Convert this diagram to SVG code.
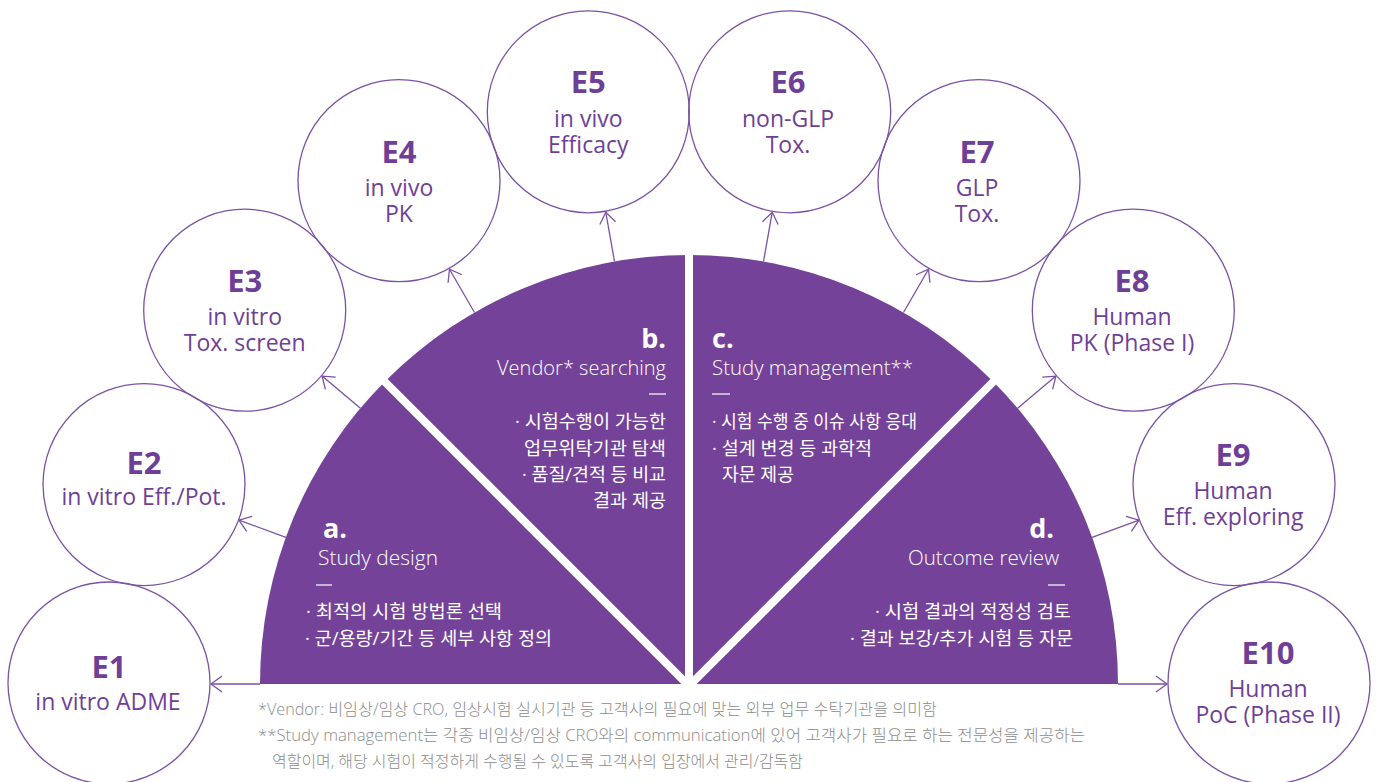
<svg xmlns="http://www.w3.org/2000/svg" width="1379" height="782" viewBox="0 0 1379 782">
  <defs>
    <style>
      .ring { fill: none; stroke: #7b52a3; stroke-width: 1.3; }
      .code { font-family: "Open Sans", "Noto Sans", sans-serif; font-weight: 700; font-size: 31px; fill: #6f3f97; text-anchor: middle; }
      .sub { font-family: "Open Sans", "Noto Sans", sans-serif; font-weight: 400; font-size: 23px; fill: #6f3f97; text-anchor: middle; }
      .link { fill: none; stroke: #7b52a3; stroke-width: 1.3; }
      .letter { font-family: "Open Sans", "Noto Sans", sans-serif; font-weight: 700; font-size: 27px; fill: #ffffff; }
      .head { font-family: "Open Sans", "Noto Sans", sans-serif; font-weight: 300; font-size: 20px; fill: #ffffff; }
      .item { font-family: "Open Sans", "Noto Sans CJK KR", sans-serif; font-weight: 400; font-size: 18.5px; fill: #ffffff; }
      .rule { stroke: #ffffff; stroke-width: 1.2; }
      .note { font-family: "Open Sans", "Noto Sans CJK KR", sans-serif; font-weight: 300; font-size: 16px; fill: #8c8c8c; }
      .end { text-anchor: end; }
    </style>
    <marker id="chev" viewBox="-12 -9 14 18" markerWidth="14" markerHeight="18" refX="0" refY="0" orient="auto" markerUnits="userSpaceOnUse">
      <path d="M-11,-8 L0,0 L-11,8" fill="none" stroke="#7b52a3" stroke-width="1.3"/>
    </marker>
  </defs>

  <!-- central half disc split into four sectors -->
  <g id="hub">
    <path d="M260,684 A429,429 0 0 1 1118,684 Z" fill="#744399"/>
    <g stroke="#ffffff" stroke-width="8" stroke-linecap="butt">
      <line x1="689" y1="686" x2="689" y2="245"/>
      <line x1="689" y1="686" x2="378" y2="375"/>
      <line x1="689" y1="686" x2="1000" y2="375"/>
    </g>
  </g>

  <g id="sector-a">
    <text class="letter" x="323" y="538">a.</text>
    <text class="head" x="318" y="565" textLength="120" lengthAdjust="spacingAndGlyphs">Study design</text>
    <line class="rule" x1="316" y1="585" x2="332" y2="585"/>
    <text class="item" x="306" y="618" textLength="196" lengthAdjust="spacingAndGlyphs">· 최적의 시험 방법론 선택</text>
    <text class="item" x="305" y="645" textLength="247" lengthAdjust="spacingAndGlyphs">· 군/용량/기간 등 세부 사항 정의</text>
  </g>

  <g id="sector-b">
    <text class="letter end" x="666" y="348">b.</text>
    <text class="head end" x="666" y="375" textLength="169" lengthAdjust="spacingAndGlyphs">Vendor* searching</text>
    <line class="rule" x1="649" y1="394" x2="666" y2="394"/>
    <text class="item end" x="666" y="428" textLength="151" lengthAdjust="spacingAndGlyphs">· 시험수행이 가능한</text>
    <text class="item end" x="666" y="455" textLength="142" lengthAdjust="spacingAndGlyphs">업무위탁기관 탐색</text>
    <text class="item end" x="666" y="481" textLength="144" lengthAdjust="spacingAndGlyphs">· 품질/견적 등 비교</text>
    <text class="item end" x="666" y="507" textLength="73" lengthAdjust="spacingAndGlyphs">결과 제공</text>
  </g>

  <g id="sector-c">
    <text class="letter" x="712" y="348">c.</text>
    <text class="head" x="712" y="375" textLength="201" lengthAdjust="spacingAndGlyphs">Study management**</text>
    <line class="rule" x1="712" y1="394" x2="730" y2="394"/>
    <text class="item" x="712" y="428" textLength="205" lengthAdjust="spacingAndGlyphs">· 시험 수행 중 이슈 사항 응대</text>
    <text class="item" x="712" y="455" textLength="160" lengthAdjust="spacingAndGlyphs">· 설계 변경 등 과학적</text>
    <text class="item" x="722" y="481" textLength="72" lengthAdjust="spacingAndGlyphs">자문 제공</text>
  </g>

  <g id="sector-d">
    <text class="letter end" x="1054" y="538">d.</text>
    <text class="head end" x="1059" y="565" textLength="151" lengthAdjust="spacingAndGlyphs">Outcome review</text>
    <line class="rule" x1="1048" y1="585" x2="1065" y2="585"/>
    <text class="item end" x="1071" y="618" textLength="196" lengthAdjust="spacingAndGlyphs">· 시험 결과의 적정성 검토</text>
    <text class="item end" x="1073" y="645" textLength="223" lengthAdjust="spacingAndGlyphs">· 결과 보강/추가 시험 등 자문</text>
  </g>

  <!-- radial connectors from the half disc to each stage -->
  <g id="connectors">
    <line class="link" x1="260" y1="684" x2="211" y2="684" marker-end="url(#chev)"/>
    <line class="link" x1="285.9" y1="537.3" x2="239.0" y2="520.2" marker-end="url(#chev)"/>
    <line class="link" x1="360.4" y1="408.2" x2="322.1" y2="376.1" marker-end="url(#chev)"/>
    <line class="link" x1="474.5" y1="312.5" x2="449.5" y2="269.2" marker-end="url(#chev)"/>
    <line class="link" x1="614.5" y1="261.5" x2="605.8" y2="212.3" marker-end="url(#chev)"/>
    <line class="link" x1="763.5" y1="261.5" x2="772.2" y2="212.3" marker-end="url(#chev)"/>
    <line class="link" x1="903.5" y1="312.5" x2="928.5" y2="269.2" marker-end="url(#chev)"/>
    <line class="link" x1="1017.6" y1="408.2" x2="1055.9" y2="376.1" marker-end="url(#chev)"/>
    <line class="link" x1="1092.1" y1="537.3" x2="1139.0" y2="520.2" marker-end="url(#chev)"/>
    <line class="link" x1="1118" y1="684" x2="1167" y2="684" marker-end="url(#chev)"/>
  </g>

  <g id="E1">
    <circle class="ring" cx="109" cy="683" r="101"/>
    <text class="code" x="109" y="678">E1</text>
    <text class="sub" x="108" y="710">in vitro ADME</text>
  </g>
  <g id="E2">
    <circle class="ring" cx="144" cy="484.6" r="101"/>
    <text class="code" x="144" y="474">E2</text>
    <text class="sub" x="144" y="505">in vitro Eff./Pot.</text>
  </g>
  <g id="E3">
    <circle class="ring" cx="244.7" cy="310.2" r="101"/>
    <text class="code" x="244.7" y="292">E3</text>
    <text class="sub" x="244.7" y="325">in vitro</text>
    <text class="sub" x="244.7" y="351">Tox. screen</text>
  </g>
  <g id="E4">
    <circle class="ring" cx="399" cy="180.7" r="101"/>
    <text class="code" x="399" y="163">E4</text>
    <text class="sub" x="399" y="196">in vivo</text>
    <text class="sub" x="399" y="222">PK</text>
  </g>
  <g id="E5">
    <circle class="ring" cx="588.3" cy="111.8" r="101"/>
    <text class="code" x="588.3" y="93">E5</text>
    <text class="sub" x="588.3" y="127">in vivo</text>
    <text class="sub" x="588.3" y="153">Efficacy</text>
  </g>
  <g id="E6">
    <circle class="ring" cx="789.7" cy="111.8" r="101"/>
    <text class="code" x="788" y="93">E6</text>
    <text class="sub" x="788" y="127">non-GLP</text>
    <text class="sub" x="788" y="153">Tox.</text>
  </g>
  <g id="E7">
    <circle class="ring" cx="979" cy="180.7" r="101"/>
    <text class="code" x="977" y="163">E7</text>
    <text class="sub" x="977" y="196">GLP</text>
    <text class="sub" x="977" y="222">Tox.</text>
  </g>
  <g id="E8">
    <circle class="ring" cx="1133.3" cy="310.2" r="101"/>
    <text class="code" x="1132" y="292">E8</text>
    <text class="sub" x="1132" y="325">Human</text>
    <text class="sub" x="1132" y="351">PK (Phase I)</text>
  </g>
  <g id="E9">
    <circle class="ring" cx="1234" cy="484.6" r="101"/>
    <text class="code" x="1233" y="466">E9</text>
    <text class="sub" x="1233" y="499">Human</text>
    <text class="sub" x="1233" y="525">Eff. exploring</text>
  </g>
  <g id="E10">
    <circle class="ring" cx="1269" cy="683" r="101"/>
    <text class="code" x="1268" y="664">E10</text>
    <text class="sub" x="1268" y="697">Human</text>
    <text class="sub" x="1268" y="723">PoC (Phase II)</text>
  </g>

  <!-- footnotes -->
  <g id="notes">
    <text class="note" x="258" y="715" textLength="679" lengthAdjust="spacingAndGlyphs">*Vendor: 비임상/임상 CRO, 임상시험 실시기관 등 고객사의 필요에 맞는 외부 업무 수탁기관을 의미함</text>
    <text class="note" x="258" y="741" textLength="827" lengthAdjust="spacingAndGlyphs">**Study management는 각종 비임상/임상 CRO와의 communication에 있어 고객사가 필요로 하는 전문성을 제공하는</text>
    <text class="note" x="272" y="767" textLength="531" lengthAdjust="spacingAndGlyphs">역할이며, 해당 시험이 적정하게 수행될 수 있도록 고객사의 입장에서 관리/감독함</text>
  </g>
</svg>
